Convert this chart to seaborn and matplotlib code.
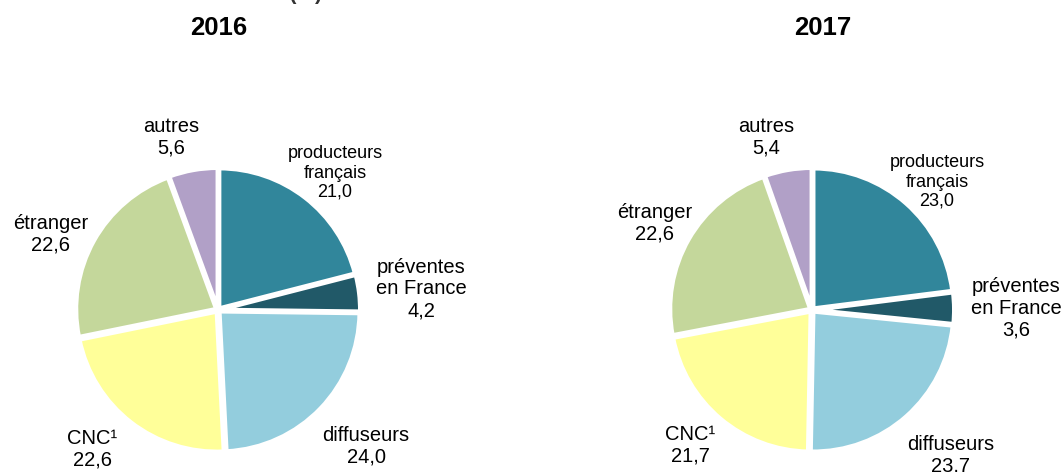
import matplotlib
matplotlib.use("Agg")
import matplotlib.pyplot as plt
import seaborn as sns

sns.set_theme(style="white")
plt.rcParams['font.family'] = ['Liberation Sans', 'DejaVu Sans']

# ---- data ----
categories = ["producteurs\nfrançais", "préventes\nen France", "diffuseurs", "CNC¹", "étranger", "autres"]
values_2016 = [21.0, 4.2, 24.0, 22.6, 22.6, 5.6]
values_2017 = [23.0, 3.6, 23.7, 21.7, 22.6, 5.4]
years = ["2016", "2017"]
colors = ["#31869B", "#215968", "#93CDDD", "#FFFF99", "#C4D79B", "#B1A0C7"]

# ---- layout (pixels) ----
W, H = 1064, 472
DPI = 100
R = 140  # pie radius in px
centers = [(218, 310), (812, 310)]
title_x = [219, 823]
label_pos = [
    [(335, 173), (421, 289), (366, 446), (92, 449), (51, 234), (171, 137)],
    [(937, 182), (1016, 308), (951, 455), (690, 445), (655, 223), (766, 137)],
]
small_label = [True, False, False, False, False, False]

fig = plt.figure(figsize=(W / DPI, H / DPI), dpi=DPI)
fig.patch.set_facecolor("white")

def fmt(v):
    return f"{v:.1f}".replace(".", ",")

for i, vals in enumerate([values_2016, values_2017]):
    cx, cy = centers[i]
    ext = 1.8
    left = (cx - ext * R) / W
    bottom = (H - cy - ext * R) / H
    ax = fig.add_axes([left, bottom, 2 * ext * R / W, 2 * ext * R / H])
    ax.pie(vals, colors=colors, startangle=90, counterclock=False,
           explode=[0.015] * len(vals),
           wedgeprops=dict(edgecolor="white", linewidth=3.0))
    ax.set_xlim(-ext, ext)
    ax.set_ylim(-ext, ext)
    ax.set_aspect("equal")
    ax.axis("off")
    for j, (cat, v) in enumerate(zip(categories, vals)):
        px, py = label_pos[i][j]
        fig.text(px / W, 1 - py / H, f"{cat}\n{fmt(v)}",
                 ha="center", va="center", multialignment="center",
                 fontsize=13 if small_label[j] else 14.5, color="black",
                 linespacing=1.18)
    fig.text(title_x[i] / W, 1 - 28 / H, years[i], ha="center", va="center",
             fontsize=18.5, fontweight="bold", color="black")

fig.text(322 / W, 1 + 0.5 / H, "Sources de financement (%)", ha="right",
         va="baseline", fontsize=15, fontweight="bold", color="#333333")

fig.savefig("out.png", dpi=DPI, facecolor="white")
